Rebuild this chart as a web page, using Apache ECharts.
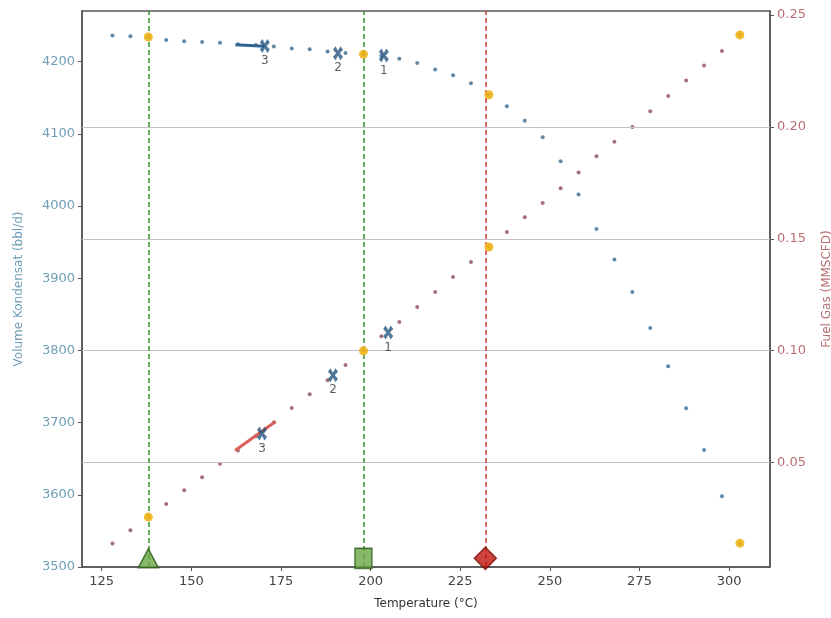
<!DOCTYPE html>
<html lang="en">
<head>
<meta charset="UTF-8">
<title>Volume Kondensat vs Fuel Gas</title>
<style>
  html, body { margin: 0; padding: 0; background: #fff; }
  #chart { width: 831px; height: 618px; }
</style>
</head>
<body>
<div id="chart"></div>
<script src="https://cdn.jsdelivr.net/npm/echarts@6/dist/echarts.min.js"></script>
<script>
// temperatures (°C) of the simulation points
var temps = [128, 133, 138, 143, 148, 153, 158, 163, 168, 173, 178, 183, 188, 193, 198, 203, 208, 213,
             218, 223, 228, 233, 238, 243, 248, 253, 258, 263, 268, 273, 278, 283, 288, 293, 298, 303];
// condensate volume (bbl/d) - left axis
var volume = [4236, 4235, 4234, 4230, 4228, 4227, 4226, 4224, 4223, 4221, 4218, 4217, 4214, 4212, 4210, 4208, 4204, 4198,
              4189, 4181, 4170, 4154, 4138, 4118, 4095, 4062, 4016, 3968, 3926, 3881, 3831, 3778, 3720, 3662, 3598, 3533];
// fuel gas (MMSCFD) - right axis
var fuelGas = [0.0138, 0.0197, 0.0256, 0.0315, 0.0376, 0.0434, 0.0494, 0.0554, 0.0617, 0.0679, 0.0744, 0.0805, 0.0868, 0.0936,
               0.0999, 0.1064, 0.1128, 0.1195, 0.1262, 0.1329, 0.1396, 0.1463, 0.1530, 0.1596, 0.1660, 0.1726, 0.1796, 0.1869,
               0.1934, 0.2000, 0.2070, 0.2138, 0.2207, 0.2274, 0.2339, 0.2411];
// highlighted points
var highlightTemps = [138, 198, 233, 303];

// operating points 1, 2, 3
var opLabels = ['1', '2', '3'];
var volOpT = [203.7, 190.9, 170.5];
var volOpV = [4208.5, 4211.5, 4221.5];
var fuelOpT = [204.9, 189.5, 169.7];
var fuelOpV = [0.1081, 0.0890, 0.0630];

// short trend segments near point 3
var volSegT = [162.3, 170.4];
var volSegV = [4223.1, 4221.2];
var fuelSegT = [162.2, 173.5];
var fuelSegV = [0.0554, 0.0683];

// vertical reference lines and their bottom markers
var refTemps = [138, 198, 232];
var refColors = ['#3f9a3a', '#3f9a3a', '#d04a3c'];
var refSymbols = ['triangle', 'rect', 'diamond'];

// tick labels
var xTicks = [125, 150, 175, 200, 225, 250, 275, 300];
var leftTicks = [3500, 3600, 3700, 3800, 3900, 4000, 4100, 4200];
var rightTicks = [0.05, 0.10, 0.15, 0.20, 0.25];
var gridTicks = [0.05, 0.10, 0.15, 0.20];

var volColor = '#3a6a90';
var fuelColor = '#8f4d56';
var hiColor = '#f0b41a';
var markColor = '#24557f';
// filled "X" marker, a bit taller than wide
var xShape = 'path://M0,2.5 L2.5,0 L5,3.2 L7.5,0 L10,2.5 L6.8,5 L10,7.5 L7.5,10 L5,6.8 L2.5,10 L0,7.5 L3.2,5 Z';

var chart = echarts.init(document.getElementById('chart'));

var volData = [], fuelData = [], volHi = [], fuelHi = [];
for (var i = 0; i < temps.length; i++) {
  volData.push([temps[i], volume[i]]);
  fuelData.push([temps[i], fuelGas[i]]);
  if (highlightTemps.indexOf(temps[i]) >= 0) {
    volHi.push([temps[i], volume[i]]);
    fuelHi.push([temps[i], fuelGas[i]]);
  }
}
var volOp = [], fuelOp = [];
for (var j = 0; j < opLabels.length; j++) {
  volOp.push({ value: [volOpT[j], volOpV[j]], name: opLabels[j] });
  fuelOp.push({ value: [fuelOpT[j], fuelOpV[j]], name: opLabels[j] });
}
var refMarks = [];
var refLines = [];
for (var k = 0; k < refTemps.length; k++) {
  refMarks.push({
    value: [refTemps[k], 3512],
    symbol: refSymbols[k],
    symbolSize: k == 2 ? [22, 22] : (k == 1 ? [17, 20] : [20, 19]),
    itemStyle: { color: k == 2 ? '#c0140e' : '#6aa845', borderColor: k == 2 ? '#7a0d08' : '#2e5a1c', borderWidth: 1.5 }
  });
  refLines.push({ xAxis: refTemps[k], lineStyle: { color: refColors[k], type: [5, 3], width: 1.6 } });
}
var gridLines = gridTicks.map(function (v) { return { yAxis: v }; });

chart.setOption({
  animation: false,
  grid: {
    left: 82, right: 61, top: 11, bottom: 51, containLabel: false, outerBoundsMode: 'none',
    show: true, borderColor: '#555', borderWidth: 1.5
  },
  xAxis: {
    type: 'value', min: 119.5, max: 311.4,
    name: 'Temperature (°C)', nameLocation: 'middle', nameGap: 31,
    nameTextStyle: { color: '#333', fontFamily: 'DejaVu Sans', fontSize: 12 },
    axisLine: { show: true, lineStyle: { color: '#555', width: 1.5 } },
    axisTick: { show: true, length: 4, customValues: xTicks, lineStyle: { color: '#555' } },
    axisLabel: { customValues: xTicks, color: '#444', margin: 8, fontFamily: 'DejaVu Sans', fontSize: 13 },
    splitLine: { show: false }
  },
  yAxis: [{
    type: 'value', min: 3500, max: 4270, position: 'left',
    name: 'Volume Kondensat (bbl/d)', nameLocation: 'middle', nameGap: 57,
    nameTextStyle: { color: '#6f9fb8', fontFamily: 'DejaVu Sans', fontSize: 12 },
    axisLine: { show: true, lineStyle: { color: '#555', width: 1.5 } },
    axisTick: { show: true, length: 4, customValues: leftTicks, lineStyle: { color: '#555' } },
    axisLabel: {
      customValues: leftTicks, color: '#6f9fb8', margin: 7, fontFamily: 'DejaVu Sans', fontSize: 13,
      formatter: function (v) { return String(v); }
    },
    splitLine: { show: false }
  }, {
    type: 'value', min: 0.0033, max: 0.2518, position: 'right',
    name: 'Fuel Gas (MMSCFD)', nameLocation: 'middle', nameGap: 51,
    nameTextStyle: { color: '#b86f72', fontFamily: 'DejaVu Sans', fontSize: 12 },
    axisLine: { show: true, lineStyle: { color: '#555', width: 1.5 } },
    axisTick: { show: true, length: 4, customValues: rightTicks, lineStyle: { color: '#555' } },
    axisLabel: {
      customValues: rightTicks, color: '#b86f72', margin: 7, fontFamily: 'DejaVu Sans', fontSize: 13,
      formatter: function (v) { return v.toFixed(2); }
    },
    splitLine: { show: false }
  }],
  series: [{
    name: 'grid', type: 'line', yAxisIndex: 1, data: [], silent: true,
    markLine: {
      silent: true, symbol: 'none', label: { show: false }, animation: false,
      lineStyle: { color: '#c4c4c4', type: 'solid', width: 1.2 },
      data: gridLines
    }
  }, {
    name: 'refs', type: 'line', yAxisIndex: 0, data: [], silent: true, z: 3,
    markLine: { silent: true, symbol: 'none', label: { show: false }, animation: false, data: refLines }
  }, {
    name: 'Volume Kondensat', type: 'scatter', yAxisIndex: 0, data: volData,
    symbolSize: 4, itemStyle: { color: volColor }, z: 4
  }, {
    name: 'Fuel Gas', type: 'scatter', yAxisIndex: 1, data: fuelData,
    symbolSize: 4, itemStyle: { color: fuelColor }, z: 4
  }, {
    name: 'volSeg', type: 'line', yAxisIndex: 0, showSymbol: false, z: 5,
    data: volSegT.map(function (t, i) { return [t, volSegV[i]]; }),
    lineStyle: { color: '#2f6593', width: 3 }
  }, {
    name: 'fuelSeg', type: 'line', yAxisIndex: 1, showSymbol: false, z: 5,
    data: fuelSegT.map(function (t, i) { return [t, fuelSegV[i]]; }),
    lineStyle: { color: '#d9605a', width: 3 }
  }, {
    name: 'volHi', type: 'scatter', yAxisIndex: 0, data: volHi,
    symbolSize: 9, itemStyle: { color: hiColor, opacity: 0.9 }, z: 6
  }, {
    name: 'fuelHi', type: 'scatter', yAxisIndex: 1, data: fuelHi,
    symbolSize: 9, itemStyle: { color: hiColor, opacity: 0.9 }, z: 6
  }, {
    name: 'volOp', type: 'scatter', yAxisIndex: 0, data: volOp,
    symbol: xShape, symbolSize: [10, 14], itemStyle: { color: markColor }, z: 7,
    label: { show: true, position: 'bottom', distance: 2, formatter: '{b}', color: '#333', fontFamily: 'DejaVu Sans', fontSize: 12 }
  }, {
    name: 'fuelOp', type: 'scatter', yAxisIndex: 1, data: fuelOp,
    symbol: xShape, symbolSize: [10, 14], itemStyle: { color: markColor }, z: 7,
    label: { show: true, position: 'bottom', distance: 2, formatter: '{b}', color: '#333', fontFamily: 'DejaVu Sans', fontSize: 12 }
  }, {
    name: 'refMarks', type: 'scatter', yAxisIndex: 0, data: refMarks, z: 8
  }]
});
</script>
</body>
</html>
